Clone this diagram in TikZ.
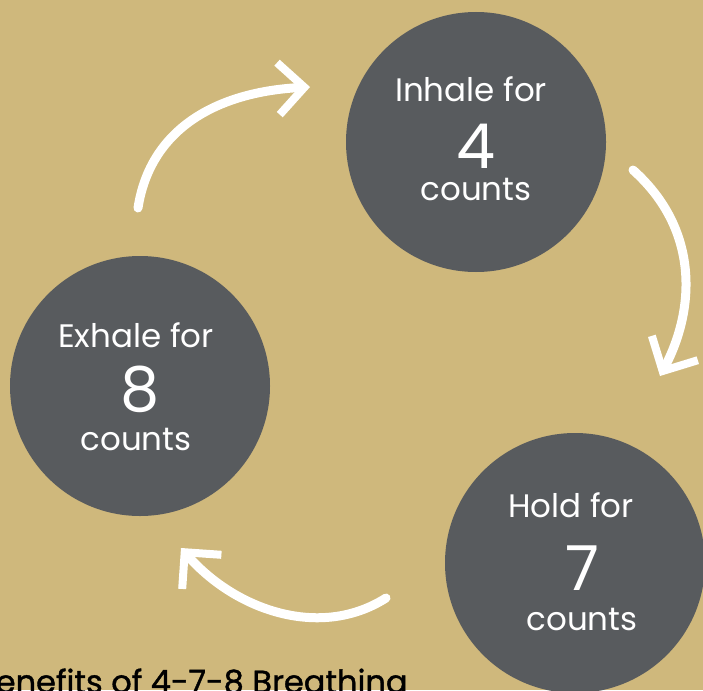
\documentclass[tikz,border=0pt]{standalone}
\usepackage{fontspec}
\setmainfont{Poppins}
\newfontfamily\captionfont[FakeBold=1.2]{Poppins}
\usetikzlibrary{arrows.meta}
\definecolor{sand}{HTML}{CFB87C}
\definecolor{slate}{HTML}{585B5E}

\begin{document}
\begin{tikzpicture}[x=1pt,y=-1pt,
  stage/.style={circle, fill=slate, minimum size=260pt, inner sep=0pt},
  lbl/.style={anchor=base, text=white, inner sep=0pt, font=\fontsize{32.5}{34}\selectfont},
  num/.style={anchor=base, text=white, inner sep=0pt, font=\fontsize{62}{62}\selectfont},
  flow/.style={draw=white, line width=9pt, line cap=round,
    -{Straight Barb[length=26pt,width=52pt,line width=8pt]}}]
  \useasboundingbox (0,0) rectangle (703,690);
  \clip (0,0) rectangle (703,690);
  \fill[sand] (0,0) rectangle (703,690);

  % Inhale
  \node[stage] (inhale) at (476,142) {};
  \node[lbl] (inhaletop) at (471,102) {Inhale for};
  \node[num] (inhalenum) at (476,168) {4};
  \node[lbl] (inhalebot) at (476,200) {counts};

  % Hold
  \node[stage] (hold) at (575,563) {};
  \node[lbl] (holdtop) at (571,517) {Hold for};
  \node[num] (holdnum) at (582,590) {7};
  \node[lbl] (holdbot) at (582,630) {counts};

  % Exhale
  \node[stage] (exhale) at (140,386) {};
  \node[lbl] (exhaletop) at (136,347) {Exhale for};
  \node[num] (exhalenum) at (140,411) {8};
  \node[lbl] (exhalebot) at (136,450) {counts};

  % arrows between stages
  \coordinate (a1) at (138,208);
  \coordinate (b1) at (310,87);
  \coordinate (a2) at (633,170);
  \coordinate (b2) at (660,376);
  \coordinate (a3) at (386,598);
  \coordinate (b3) at (181,548);
  \draw[flow] (a1) .. controls (150,130) and (215,92) .. (b1);
  \draw[flow] (a2) .. controls (700,230) and (695,310) .. (b2);
  \draw[flow] (a3) .. controls (320,640) and (235,610) .. (b3);

  % caption
  \node[anchor=base west, inner sep=0pt, font=\captionfont\fontsize{32}{34}\selectfont] (title) at (-24,693) {Benefits of 4-7-8 Breathing};
\end{tikzpicture}
\end{document}
